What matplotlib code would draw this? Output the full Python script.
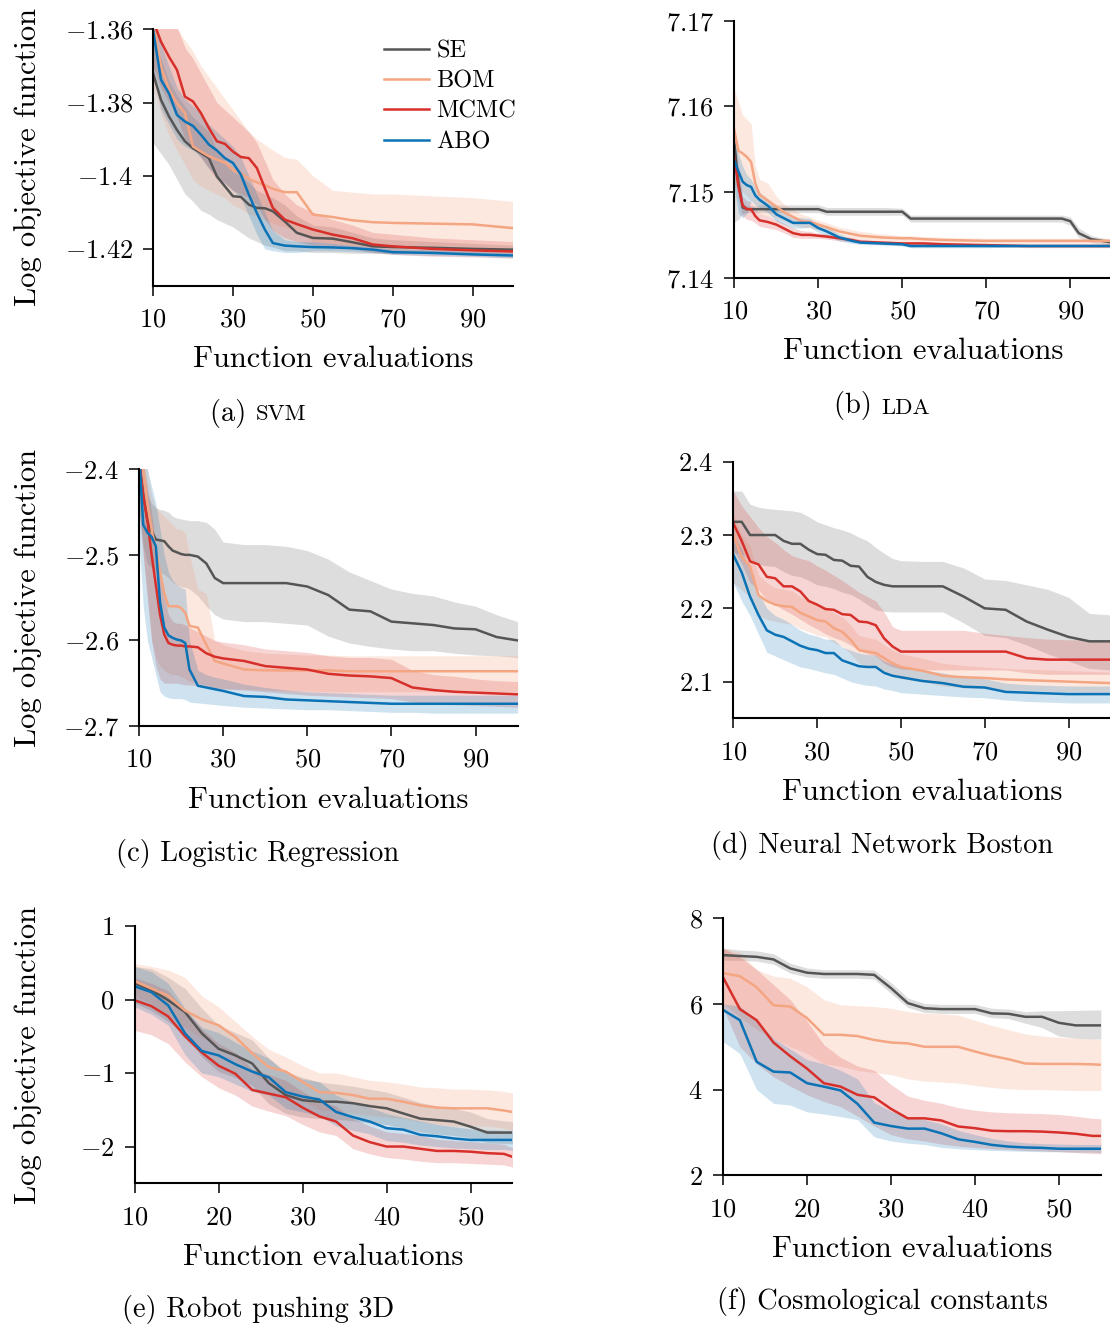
import matplotlib
matplotlib.use("Agg")
import matplotlib.pyplot as plt
from matplotlib.offsetbox import TextArea, HPacker, AnchoredOffsetbox

plt.rcParams['font.family'] = ['cmr10', 'DejaVu Serif']
plt.rcParams['mathtext.fontset'] = 'cm'
plt.rcParams['axes.formatter.use_mathtext'] = True

# ---------------- data ----------------
METHODS = ["SE", "BOM", "MCMC", "ABO"]
COLORS = ["#555555", "#f4a582", "#d7302b", "#0a72b5"]

# (a) SVM
SVM_X = [10, 12, 14, 16, 18, 20, 22, 24, 26, 28, 30, 32, 34, 36, 38, 40, 43, 46, 50, 55, 60, 65, 70, 80, 90, 100]
SVM_SE = [-1.372, -1.3793, -1.3838, -1.3875, -1.3906, -1.3925, -1.3938, -1.3952, -1.4002, -1.4029, -1.4056, -1.4058, -1.4079, -1.4088, -1.4089, -1.4097, -1.4125, -1.4156, -1.417, -1.4172, -1.4182, -1.4193, -1.4195, -1.4197, -1.42, -1.4202]
SVM_SE_LO = [-1.391, -1.394, -1.397, -1.401, -1.405, -1.407, -1.4095, -1.4105, -1.412, -1.413, -1.414, -1.4155, -1.417, -1.418, -1.419, -1.4195, -1.4205, -1.4205, -1.421, -1.421, -1.4212, -1.4212, -1.4212, -1.4212, -1.4213, -1.4214]
SVM_SE_HI = [-1.362, -1.368, -1.374, -1.378, -1.381, -1.384, -1.386, -1.388, -1.393, -1.396, -1.399, -1.400, -1.402, -1.404, -1.405, -1.406, -1.408, -1.411, -1.4135, -1.414, -1.4155, -1.417, -1.4175, -1.418, -1.4185, -1.419]
SVM_BOM = [-1.3575, -1.3702, -1.3765, -1.3802, -1.3829, -1.392, -1.3934, -1.3947, -1.3956, -1.3964, -1.3984, -1.3993, -1.4009, -1.4018, -1.4026, -1.4036, -1.4045, -1.4045, -1.4106, -1.4113, -1.4122, -1.4127, -1.4129, -1.4131, -1.4133, -1.4143]
SVM_BOM_LO = [-1.375, -1.383, -1.389, -1.393, -1.397, -1.401, -1.403, -1.404, -1.405, -1.406, -1.408, -1.409, -1.4105, -1.411, -1.412, -1.413, -1.414, -1.415, -1.418, -1.4185, -1.419, -1.4192, -1.4195, -1.4195, -1.42, -1.421]
SVM_BOM_HI = [-1.34, -1.35, -1.355, -1.36, -1.363, -1.366, -1.370, -1.373, -1.376, -1.379, -1.382, -1.385, -1.388, -1.390, -1.3915, -1.393, -1.395, -1.3955, -1.400, -1.404, -1.4045, -1.405, -1.405, -1.4055, -1.406, -1.407]
SVM_MCMC = [-1.3575, -1.3634, -1.3675, -1.3711, -1.3784, -1.3797, -1.3829, -1.387, -1.3906, -1.3913, -1.3934, -1.3949, -1.3952, -1.3979, -1.4034, -1.4088, -1.412, -1.4132, -1.4147, -1.4161, -1.4171, -1.4188, -1.4193, -1.42, -1.4204, -1.4207]
SVM_MCMC_LO = [-1.370, -1.376, -1.380, -1.384, -1.390, -1.392, -1.395, -1.398, -1.401, -1.402, -1.404, -1.405, -1.406, -1.408, -1.412, -1.415, -1.417, -1.418, -1.419, -1.4195, -1.420, -1.421, -1.4215, -1.422, -1.4222, -1.4225]
SVM_MCMC_HI = [-1.345, -1.350, -1.355, -1.359, -1.365, -1.368, -1.372, -1.376, -1.380, -1.382, -1.384, -1.386, -1.388, -1.391, -1.396, -1.401, -1.405, -1.408, -1.410, -1.412, -1.4135, -1.4155, -1.416, -1.417, -1.4175, -1.418]
SVM_ABO = [-1.36, -1.3738, -1.3775, -1.3834, -1.3852, -1.3864, -1.3888, -1.3915, -1.3931, -1.3952, -1.3965, -1.3997, -1.4052, -1.4102, -1.4147, -1.4184, -1.4191, -1.4193, -1.4195, -1.4196, -1.4198, -1.4202, -1.4209, -1.4211, -1.4215, -1.4218]
SVM_ABO_LO = [-1.372, -1.382, -1.386, -1.390, -1.392, -1.393, -1.395, -1.398, -1.400, -1.402, -1.404, -1.406, -1.411, -1.416, -1.420, -1.4205, -1.421, -1.421, -1.4205, -1.4205, -1.4207, -1.421, -1.4215, -1.4218, -1.422, -1.4225]
SVM_ABO_HI = [-1.355, -1.364, -1.370, -1.376, -1.379, -1.381, -1.383, -1.386, -1.388, -1.390, -1.392, -1.395, -1.400, -1.405, -1.410, -1.415, -1.4175, -1.418, -1.418, -1.4185, -1.419, -1.4195, -1.420, -1.4203, -1.4207, -1.421]

# (b) LDA
LDA_X = [10, 11, 12, 13, 14, 15, 16, 18, 20, 22, 24, 26, 28, 30, 32, 35, 38, 40, 45, 50, 52, 55, 60, 70, 80, 88, 90, 92, 95, 100]
LDA_SE = [7.1557, 7.151, 7.1482, 7.148, 7.148, 7.148, 7.148, 7.148, 7.148, 7.148, 7.148, 7.148, 7.148, 7.148, 7.1477, 7.1477, 7.1477, 7.1477, 7.1477, 7.1477, 7.1469, 7.1469, 7.1469, 7.1469, 7.1469, 7.1469, 7.1466, 7.1452, 7.1445, 7.1441]
LDA_SE_LO = [7.1465, 7.1468, 7.1475, 7.1476, 7.1476, 7.1476, 7.1476, 7.1476, 7.1476, 7.1476, 7.1476, 7.1476, 7.1476, 7.1476, 7.1473, 7.1473, 7.1473, 7.1473, 7.1473, 7.1473, 7.1465, 7.1465, 7.1465, 7.1465, 7.1465, 7.1465, 7.1461, 7.1447, 7.1441, 7.1438]
LDA_SE_HI = [7.158, 7.153, 7.1488, 7.1484, 7.1484, 7.1484, 7.1485, 7.1485, 7.1485, 7.1485, 7.1485, 7.1485, 7.1485, 7.1485, 7.1482, 7.1482, 7.1482, 7.1482, 7.1482, 7.1481, 7.1473, 7.1473, 7.1473, 7.1473, 7.1473, 7.1473, 7.1471, 7.1458, 7.1449, 7.1444]
LDA_BOM = [7.1572, 7.1548, 7.1545, 7.1541, 7.1535, 7.151, 7.1497, 7.149, 7.1483, 7.1476, 7.1471, 7.1466, 7.1465, 7.1462, 7.1459, 7.1454, 7.1451, 7.1449, 7.1447, 7.1446, 7.1446, 7.1445, 7.1444, 7.1443, 7.1443, 7.1443, 7.1443, 7.1443, 7.1443, 7.1443]
LDA_BOM_LO = [7.151, 7.1505, 7.150, 7.1495, 7.149, 7.148, 7.1475, 7.1472, 7.147, 7.1466, 7.1462, 7.1459, 7.1458, 7.1456, 7.1454, 7.145, 7.1447, 7.1445, 7.1443, 7.1442, 7.1442, 7.1441, 7.1441, 7.144, 7.144, 7.144, 7.144, 7.144, 7.144, 7.144]
LDA_BOM_HI = [7.162, 7.1605, 7.159, 7.1585, 7.158, 7.153, 7.1515, 7.151, 7.1495, 7.1485, 7.148, 7.1474, 7.1471, 7.1467, 7.1464, 7.1459, 7.1456, 7.1454, 7.1451, 7.1449, 7.1449, 7.1448, 7.1447, 7.1446, 7.1446, 7.1446, 7.1446, 7.1446, 7.1446, 7.1446]
LDA_MCMC = [7.1541, 7.1506, 7.1484, 7.148, 7.148, 7.1472, 7.1467, 7.1465, 7.1462, 7.1457, 7.1452, 7.145, 7.145, 7.1449, 7.1448, 7.1446, 7.1444, 7.1442, 7.1441, 7.144, 7.144, 7.144, 7.1439, 7.1438, 7.1437, 7.1437, 7.1437, 7.1437, 7.1437, 7.1437]
LDA_MCMC_LO = [7.1525, 7.149, 7.1472, 7.1468, 7.1467, 7.1464, 7.146, 7.1458, 7.1456, 7.1452, 7.1447, 7.1446, 7.1446, 7.1446, 7.1445, 7.1443, 7.1442, 7.144, 7.1439, 7.1438, 7.1438, 7.1438, 7.1437, 7.1436, 7.1435, 7.1435, 7.1435, 7.1435, 7.1435, 7.1435]
LDA_MCMC_HI = [7.1555, 7.152, 7.1495, 7.149, 7.1489, 7.148, 7.1475, 7.1472, 7.1468, 7.1463, 7.1458, 7.1455, 7.1454, 7.1452, 7.1451, 7.1449, 7.1447, 7.1445, 7.1443, 7.1442, 7.1442, 7.1442, 7.1441, 7.144, 7.1439, 7.1439, 7.1439, 7.1439, 7.1439, 7.1439]
LDA_ABO = [7.1537, 7.1524, 7.1512, 7.1508, 7.1506, 7.1496, 7.1491, 7.1484, 7.1474, 7.1469, 7.1464, 7.1464, 7.1464, 7.1458, 7.1454, 7.1447, 7.1443, 7.1441, 7.144, 7.1439, 7.1437, 7.1437, 7.1437, 7.1437, 7.1437, 7.1437, 7.1437, 7.1437, 7.1437, 7.1437]
LDA_ABO_LO = [7.1505, 7.1475, 7.147, 7.1475, 7.149, 7.1485, 7.1482, 7.1476, 7.1466, 7.1462, 7.1458, 7.1458, 7.1459, 7.1453, 7.1449, 7.1443, 7.144, 7.1439, 7.1438, 7.1437, 7.1435, 7.1435, 7.1435, 7.1435, 7.1436, 7.1436, 7.1436, 7.1436, 7.1436, 7.1436]
LDA_ABO_HI = [7.1556, 7.1545, 7.153, 7.152, 7.1515, 7.1505, 7.15, 7.1492, 7.1481, 7.1475, 7.147, 7.147, 7.1469, 7.1463, 7.1459, 7.1451, 7.1446, 7.1443, 7.1442, 7.1441, 7.1439, 7.1439, 7.1439, 7.1439, 7.1438, 7.1438, 7.1438, 7.1438, 7.1438, 7.1438]

# (c) Logistic Regression
LR_X = [10, 11, 12, 13, 14, 15, 16, 17, 18, 19, 20, 21, 22, 24, 26, 28, 30, 35, 40, 45, 50, 55, 60, 65, 70, 75, 80, 85, 90, 95, 100]
LR_SE = [-2.39, -2.43, -2.46, -2.472, -2.482, -2.483, -2.484, -2.49, -2.495, -2.497, -2.499, -2.5, -2.5, -2.502, -2.51, -2.527, -2.533, -2.533, -2.533, -2.533, -2.537, -2.547, -2.564, -2.566, -2.578, -2.58, -2.582, -2.586, -2.587, -2.596, -2.6]
LR_SE_LO = [-2.45, -2.49, -2.51, -2.515, -2.52, -2.52, -2.523, -2.527, -2.532, -2.535, -2.537, -2.538, -2.54, -2.548, -2.56, -2.57, -2.575, -2.578, -2.578, -2.58, -2.582, -2.595, -2.603, -2.607, -2.61, -2.612, -2.612, -2.615, -2.617, -2.618, -2.62]
LR_SE_HI = [-2.38, -2.40, -2.43, -2.44, -2.445, -2.447, -2.448, -2.45, -2.455, -2.457, -2.458, -2.459, -2.46, -2.46, -2.462, -2.47, -2.485, -2.488, -2.488, -2.49, -2.495, -2.505, -2.52, -2.53, -2.54, -2.545, -2.548, -2.555, -2.56, -2.57, -2.578]
LR_BOM = [-2.38, -2.40, -2.44, -2.47, -2.495, -2.52, -2.545, -2.56, -2.56, -2.56, -2.562, -2.568, -2.583, -2.585, -2.605, -2.624, -2.627, -2.634, -2.635, -2.635, -2.635, -2.635, -2.636, -2.636, -2.636, -2.636, -2.636, -2.636, -2.636, -2.636, -2.636]
LR_BOM_LO = [-2.45, -2.5, -2.55, -2.6, -2.62, -2.63, -2.635, -2.638, -2.64, -2.64, -2.642, -2.645, -2.648, -2.65, -2.652, -2.655, -2.656, -2.657, -2.658, -2.659, -2.659, -2.66, -2.66, -2.66, -2.66, -2.66, -2.66, -2.66, -2.66, -2.66, -2.66]
LR_BOM_HI = [-2.36, -2.38, -2.4, -2.43, -2.445, -2.45, -2.455, -2.46, -2.465, -2.47, -2.47, -2.475, -2.5, -2.54, -2.545, -2.6, -2.605, -2.612, -2.615, -2.616, -2.617, -2.617, -2.618, -2.618, -2.618, -2.618, -2.618, -2.618, -2.618, -2.618, -2.618]
LR_MCMC = [-2.39, -2.43, -2.46, -2.5, -2.535, -2.57, -2.593, -2.603, -2.605, -2.606, -2.606, -2.607, -2.607, -2.608, -2.615, -2.619, -2.621, -2.624, -2.63, -2.632, -2.634, -2.639, -2.641, -2.642, -2.644, -2.655, -2.658, -2.66, -2.661, -2.662, -2.663]
LR_MCMC_LO = [-2.44, -2.5, -2.55, -2.6, -2.63, -2.645, -2.65, -2.65, -2.65, -2.65, -2.651, -2.652, -2.652, -2.653, -2.655, -2.656, -2.657, -2.658, -2.66, -2.662, -2.664, -2.665, -2.666, -2.667, -2.668, -2.672, -2.674, -2.675, -2.676, -2.677, -2.678]
LR_MCMC_HI = [-2.36, -2.39, -2.42, -2.45, -2.49, -2.52, -2.55, -2.57, -2.578, -2.58, -2.58, -2.582, -2.585, -2.59, -2.595, -2.6, -2.602, -2.605, -2.61, -2.612, -2.614, -2.618, -2.62, -2.62, -2.622, -2.635, -2.64, -2.642, -2.645, -2.647, -2.648]
LR_ABO = [-2.38, -2.465, -2.474, -2.479, -2.49, -2.555, -2.585, -2.594, -2.597, -2.599, -2.6, -2.603, -2.634, -2.653, -2.655, -2.657, -2.659, -2.665, -2.666, -2.669, -2.670, -2.671, -2.672, -2.673, -2.674, -2.674, -2.674, -2.674, -2.674, -2.674, -2.674]
LR_ABO_LO = [-2.48, -2.56, -2.6, -2.62, -2.64, -2.66, -2.665, -2.667, -2.668, -2.668, -2.668, -2.669, -2.672, -2.673, -2.674, -2.675, -2.676, -2.678, -2.679, -2.68, -2.681, -2.681, -2.682, -2.683, -2.684, -2.684, -2.685, -2.685, -2.685, -2.685, -2.685]
LR_ABO_HI = [-2.36, -2.38, -2.4, -2.42, -2.44, -2.47, -2.5, -2.52, -2.53, -2.535, -2.538, -2.54, -2.6, -2.635, -2.64, -2.643, -2.645, -2.651, -2.655, -2.658, -2.66, -2.661, -2.662, -2.663, -2.664, -2.664, -2.664, -2.664, -2.664, -2.664, -2.664]

# (d) Neural Network Boston
NN_X = [10, 12, 14, 16, 18, 20, 22, 24, 26, 28, 30, 32, 34, 36, 38, 40, 42, 44, 46, 48, 50, 55, 60, 65, 70, 75, 80, 85, 90, 95, 100]
NN_SE = [2.318, 2.318, 2.3, 2.3, 2.3, 2.3, 2.292, 2.288, 2.288, 2.28, 2.274, 2.273, 2.266, 2.265, 2.258, 2.257, 2.243, 2.236, 2.232, 2.23, 2.23, 2.23, 2.23, 2.216, 2.2, 2.198, 2.182, 2.171, 2.161, 2.155, 2.155]
NN_SE_LO = [2.275, 2.275, 2.265, 2.26, 2.258, 2.257, 2.25, 2.245, 2.243, 2.238, 2.232, 2.23, 2.227, 2.222, 2.219, 2.213, 2.205, 2.198, 2.196, 2.195, 2.195, 2.195, 2.195, 2.18, 2.163, 2.16, 2.15, 2.138, 2.128, 2.118, 2.116]
NN_SE_HI = [2.36, 2.36, 2.342, 2.338, 2.336, 2.335, 2.334, 2.333, 2.331, 2.325, 2.318, 2.314, 2.31, 2.307, 2.303, 2.297, 2.292, 2.283, 2.275, 2.268, 2.265, 2.264, 2.264, 2.255, 2.24, 2.238, 2.232, 2.226, 2.215, 2.193, 2.191]
NN_BOM = [2.3, 2.27, 2.257, 2.218, 2.21, 2.205, 2.203, 2.202, 2.194, 2.189, 2.184, 2.182, 2.173, 2.168, 2.157, 2.143, 2.141, 2.139, 2.132, 2.125, 2.12, 2.115, 2.108, 2.106, 2.105, 2.103, 2.102, 2.101, 2.1, 2.099, 2.098]
NN_BOM_LO = [2.235, 2.225, 2.215, 2.19, 2.185, 2.182, 2.18, 2.178, 2.172, 2.168, 2.163, 2.161, 2.153, 2.148, 2.138, 2.125, 2.122, 2.12, 2.114, 2.108, 2.104, 2.1, 2.094, 2.092, 2.091, 2.089, 2.088, 2.087, 2.086, 2.085, 2.084]
NN_BOM_HI = [2.33, 2.3, 2.285, 2.245, 2.235, 2.228, 2.226, 2.224, 2.216, 2.21, 2.205, 2.202, 2.194, 2.188, 2.177, 2.163, 2.16, 2.158, 2.15, 2.143, 2.138, 2.132, 2.125, 2.122, 2.12, 2.118, 2.117, 2.116, 2.115, 2.114, 2.113]
NN_MCMC = [2.316, 2.292, 2.264, 2.26, 2.243, 2.241, 2.23, 2.23, 2.223, 2.21, 2.205, 2.199, 2.198, 2.192, 2.191, 2.182, 2.181, 2.177, 2.159, 2.148, 2.141, 2.141, 2.141, 2.141, 2.141, 2.141, 2.132, 2.13, 2.13, 2.13, 2.13]
NN_MCMC_LO = [2.28, 2.26, 2.235, 2.225, 2.212, 2.205, 2.198, 2.192, 2.185, 2.178, 2.172, 2.165, 2.16, 2.156, 2.15, 2.142, 2.138, 2.135, 2.125, 2.12, 2.117, 2.116, 2.116, 2.116, 2.116, 2.116, 2.112, 2.11, 2.11, 2.11, 2.11]
NN_MCMC_HI = [2.36, 2.34, 2.325, 2.31, 2.298, 2.29, 2.28, 2.272, 2.268, 2.265, 2.258, 2.252, 2.245, 2.238, 2.23, 2.222, 2.216, 2.21, 2.195, 2.175, 2.17, 2.17, 2.17, 2.17, 2.166, 2.163, 2.16, 2.158, 2.157, 2.157, 2.157]
NN_ABO = [2.273, 2.249, 2.216, 2.191, 2.17, 2.164, 2.161, 2.155, 2.149, 2.145, 2.143, 2.139, 2.139, 2.129, 2.125, 2.121, 2.12, 2.12, 2.112, 2.108, 2.106, 2.101, 2.098, 2.093, 2.092, 2.086, 2.085, 2.084, 2.083, 2.083, 2.083]
NN_ABO_LO = [2.235, 2.21, 2.19, 2.165, 2.14, 2.135, 2.13, 2.125, 2.12, 2.118, 2.115, 2.112, 2.11, 2.105, 2.1, 2.097, 2.095, 2.094, 2.09, 2.088, 2.085, 2.083, 2.081, 2.079, 2.078, 2.075, 2.073, 2.072, 2.071, 2.071, 2.071]
NN_ABO_HI = [2.3, 2.28, 2.25, 2.222, 2.2, 2.19, 2.185, 2.178, 2.17, 2.165, 2.162, 2.158, 2.157, 2.147, 2.143, 2.139, 2.137, 2.136, 2.128, 2.124, 2.121, 2.116, 2.112, 2.106, 2.104, 2.098, 2.096, 2.095, 2.094, 2.094, 2.094]

# (e) Robot pushing 3D
RP_X = [10, 12, 14, 16, 18, 20, 22, 24, 26, 28, 30, 32, 34, 36, 38, 40, 42, 44, 46, 48, 50, 52, 54, 55]
RP_SE = [0.22, 0.13, -0.01, -0.17, -0.46, -0.67, -0.76, -0.87, -1.14, -1.3, -1.37, -1.39, -1.39, -1.41, -1.45, -1.48, -1.55, -1.62, -1.64, -1.66, -1.73, -1.81, -1.81, -1.81]
RP_SE_LO = [-0.05, -0.15, -0.3, -0.48, -0.78, -0.98, -1.06, -1.17, -1.42, -1.55, -1.6, -1.62, -1.63, -1.65, -1.68, -1.7, -1.75, -1.8, -1.83, -1.85, -1.88, -1.95, -1.96, -1.96]
RP_SE_HI = [0.45, 0.42, 0.3, 0.15, -0.12, -0.35, -0.45, -0.55, -0.8, -0.98, -1.06, -1.12, -1.15, -1.18, -1.22, -1.26, -1.33, -1.4, -1.45, -1.48, -1.53, -1.62, -1.65, -1.66]
RP_BOM = [0.25, 0.15, 0.05, -0.15, -0.27, -0.35, -0.51, -0.73, -0.92, -0.98, -1.12, -1.26, -1.27, -1.3, -1.35, -1.35, -1.39, -1.44, -1.47, -1.48, -1.48, -1.48, -1.51, -1.53]
RP_BOM_LO = [0.05, -0.05, -0.2, -0.38, -0.52, -0.62, -0.78, -1.0, -1.15, -1.25, -1.38, -1.5, -1.52, -1.55, -1.58, -1.6, -1.62, -1.66, -1.7, -1.72, -1.72, -1.72, -1.75, -1.78]
RP_BOM_HI = [0.49, 0.45, 0.4, 0.3, 0.05, -0.1, -0.3, -0.5, -0.68, -0.78, -0.9, -1.0, -1.0, -1.05, -1.1, -1.12, -1.15, -1.19, -1.2, -1.22, -1.22, -1.23, -1.25, -1.27]
RP_MCMC = [-0.01, -0.09, -0.23, -0.5, -0.72, -0.9, -1.01, -1.23, -1.28, -1.33, -1.47, -1.59, -1.66, -1.85, -1.94, -2.0, -2.0, -2.03, -2.06, -2.06, -2.07, -2.09, -2.1, -2.14]
RP_MCMC_LO = [-0.42, -0.48, -0.6, -0.85, -1.05, -1.2, -1.3, -1.45, -1.52, -1.58, -1.7, -1.8, -1.85, -2.03, -2.1, -2.15, -2.17, -2.2, -2.22, -2.22, -2.23, -2.24, -2.25, -2.28]
RP_MCMC_HI = [0.3, 0.22, 0.12, -0.15, -0.4, -0.6, -0.72, -0.95, -1.02, -1.1, -1.25, -1.38, -1.45, -1.62, -1.72, -1.8, -1.82, -1.85, -1.9, -1.92, -1.93, -1.95, -1.97, -2.02]
RP_ABO = [0.18, 0.1, -0.08, -0.46, -0.7, -0.76, -0.88, -0.98, -1.06, -1.26, -1.32, -1.36, -1.53, -1.6, -1.66, -1.75, -1.77, -1.84, -1.86, -1.89, -1.91, -1.91, -1.91, -1.91]
RP_ABO_LO = [-0.1, -0.2, -0.35, -0.75, -1.0, -1.05, -1.15, -1.25, -1.3, -1.48, -1.53, -1.58, -1.72, -1.78, -1.83, -1.92, -1.94, -1.98, -2.0, -2.02, -2.03, -2.04, -2.04, -2.05]
RP_ABO_HI = [0.45, 0.38, 0.22, -0.12, -0.38, -0.45, -0.58, -0.7, -0.8, -1.0, -1.08, -1.12, -1.3, -1.4, -1.47, -1.55, -1.6, -1.65, -1.7, -1.73, -1.76, -1.77, -1.78, -1.78]

# (f) Cosmological constants
CC_X = [10, 12, 14, 16, 18, 20, 22, 24, 26, 28, 30, 32, 34, 36, 38, 40, 42, 44, 46, 48, 50, 52, 54, 55]
CC_SE = [7.14, 7.12, 7.1, 7.04, 6.83, 6.73, 6.7, 6.7, 6.7, 6.68, 6.37, 6.02, 5.9, 5.88, 5.88, 5.88, 5.78, 5.77, 5.7, 5.7, 5.56, 5.5, 5.5, 5.5]
CC_SE_LO = [7.02, 7.02, 7.0, 6.93, 6.72, 6.63, 6.6, 6.6, 6.6, 6.58, 6.25, 5.92, 5.8, 5.78, 5.78, 5.78, 5.68, 5.66, 5.55, 5.45, 5.25, 5.2, 5.18, 5.18]
CC_SE_HI = [7.3, 7.26, 7.24, 7.17, 6.95, 6.84, 6.8, 6.8, 6.8, 6.79, 6.5, 6.14, 6.01, 5.99, 5.99, 5.99, 5.9, 5.88, 5.82, 5.84, 5.84, 5.85, 5.86, 5.86]
CC_BOM = [6.72, 6.65, 6.39, 5.97, 5.94, 5.67, 5.28, 5.28, 5.25, 5.16, 5.1, 5.08, 5.0, 5.0, 5.0, 4.89, 4.79, 4.71, 4.61, 4.6, 4.6, 4.6, 4.59, 4.58]
CC_BOM_LO = [6.0, 5.7, 5.4, 5.2, 5.0, 4.85, 4.6, 4.55, 4.45, 4.4, 4.35, 4.25, 4.2, 4.18, 4.15, 4.1, 4.05, 4.02, 4.0, 4.0, 3.99, 3.98, 3.98, 3.98]
CC_BOM_HI = [7.3, 7.2, 6.8, 6.65, 6.6, 6.4, 6.1, 5.98, 5.96, 5.94, 5.9, 5.82, 5.78, 5.77, 5.74, 5.62, 5.5, 5.4, 5.3, 5.25, 5.22, 5.2, 5.18, 5.16]
CC_MCMC = [6.62, 5.88, 5.62, 5.1, 4.78, 4.49, 4.15, 4.07, 3.88, 3.82, 3.55, 3.33, 3.33, 3.28, 3.14, 3.1, 3.04, 3.03, 3.03, 3.02, 3.0, 2.97, 2.92, 2.92]
CC_MCMC_LO = [5.9, 5.0, 4.6, 4.3, 4.08, 3.88, 3.72, 3.6, 3.38, 3.15, 2.95, 2.85, 2.8, 2.73, 2.68, 2.65, 2.62, 2.6, 2.58, 2.57, 2.55, 2.53, 2.51, 2.5]
CC_MCMC_HI = [7.3, 7.1, 6.8, 6.45, 6.1, 5.6, 5.05, 4.75, 4.55, 4.45, 4.12, 3.85, 3.75, 3.68, 3.58, 3.52, 3.48, 3.46, 3.45, 3.44, 3.42, 3.38, 3.33, 3.32]
CC_ABO = [5.86, 5.62, 4.65, 4.42, 4.4, 4.15, 4.07, 3.98, 3.67, 3.23, 3.15, 3.09, 3.09, 2.98, 2.84, 2.78, 2.71, 2.67, 2.65, 2.64, 2.62, 2.62, 2.62, 2.62]
CC_ABO_LO = [5.12, 4.84, 4.0, 3.68, 3.64, 3.48, 3.43, 3.37, 3.3, 2.9, 2.8, 2.75, 2.72, 2.65, 2.62, 2.6, 2.58, 2.57, 2.56, 2.55, 2.55, 2.54, 2.54, 2.53]
CC_ABO_HI = [6.0, 5.95, 5.6, 5.2, 4.95, 4.7, 4.6, 4.45, 4.25, 3.7, 3.5, 3.35, 3.3, 3.2, 3.05, 2.95, 2.86, 2.8, 2.76, 2.74, 2.73, 2.72, 2.72, 2.72]

# ticks / labels
XT_100 = [10, 30, 50, 70, 90]
XT_55 = [10, 20, 30, 40, 50]
SVM_YT = [-1.36, -1.38, -1.40, -1.42]
SVM_YL = ["-1.36", "-1.38", "-1.4", "-1.42"]
LDA_YT = [7.14, 7.15, 7.16, 7.17]
LDA_YL = ["7.14", "7.15", "7.16", "7.17"]
LR_YT = [-2.4, -2.5, -2.6, -2.7]
LR_YL = ["-2.4", "-2.5", "-2.6", "-2.7"]
NN_YT = [2.1, 2.2, 2.3, 2.4]
NN_YL = ["2.1", "2.2", "2.3", "2.4"]
RP_YT = [1, 0, -1, -2]
RP_YL = ["1", "0", "-1", "-2"]
CC_YT = [2, 4, 6, 8]
CC_YL = ["2", "4", "6", "8"]

CAPTIONS = [("(a) ", "SVM"), ("(b) ", "LDA"), ("(c) Logistic Regression", ""),
            ("(d) Neural Network Boston", ""), ("(e) Robot pushing 3D", ""),
            ("(f) Cosmological constants", "")]

# ---------------- figure ----------------
W, H = 1110, 1328
fig = plt.figure(figsize=(W / 100, H / 100), dpi=100)

TICK_FS = 19
LABEL_FS = 22
CAP_FS = 20.5
LEG_FS = 17.5

def add_ax(L, T, R, B):
    return fig.add_axes([L / W, 1 - B / H, (R - L) / W, (B - T) / H])

panels = [
    dict(box=(153, 29.3, 512.5, 285.5), x=SVM_X,
         series=[(SVM_SE, SVM_SE_LO, SVM_SE_HI), (SVM_BOM, SVM_BOM_LO, SVM_BOM_HI),
                 (SVM_MCMC, SVM_MCMC_LO, SVM_MCMC_HI), (SVM_ABO, SVM_ABO_LO, SVM_ABO_HI)],
         xlim=(10, 100), ylim=(-1.43, -1.36), xt=XT_100, yt=SVM_YT, yl=SVM_YL,
         ylabel=True, cap=(258, 413)),
    dict(box=(734.3, 20.7, 1112.3, 277.7), x=LDA_X,
         series=[(LDA_SE, LDA_SE_LO, LDA_SE_HI), (LDA_BOM, LDA_BOM_LO, LDA_BOM_HI),
                 (LDA_MCMC, LDA_MCMC_LO, LDA_MCMC_HI), (LDA_ABO, LDA_ABO_LO, LDA_ABO_HI)],
         xlim=(10, 100), ylim=(7.14, 7.17), xt=XT_100, yt=LDA_YT, yl=LDA_YL,
         ylabel=False, cap=(882, 406)),
    dict(box=(139, 469.3, 517.6, 726), x=LR_X,
         series=[(LR_SE, LR_SE_LO, LR_SE_HI), (LR_BOM, LR_BOM_LO, LR_BOM_HI),
                 (LR_MCMC, LR_MCMC_LO, LR_MCMC_HI), (LR_ABO, LR_ABO_LO, LR_ABO_HI)],
         xlim=(10, 100), ylim=(-2.7, -2.4), xt=XT_100, yt=LR_YT, yl=LR_YL,
         ylabel=True, cap=(258, 853)),
    dict(box=(733.3, 461.7, 1110.4, 718.3), x=NN_X,
         series=[(NN_SE, NN_SE_LO, NN_SE_HI), (NN_BOM, NN_BOM_LO, NN_BOM_HI),
                 (NN_MCMC, NN_MCMC_LO, NN_MCMC_HI), (NN_ABO, NN_ABO_LO, NN_ABO_HI)],
         xlim=(10, 100), ylim=(2.05, 2.4), xt=XT_100, yt=NN_YT, yl=NN_YL,
         ylabel=False, cap=(882, 845)),
    dict(box=(134.6, 926, 512.5, 1183.3), x=RP_X,
         series=[(RP_SE, RP_SE_LO, RP_SE_HI), (RP_BOM, RP_BOM_LO, RP_BOM_HI),
                 (RP_MCMC, RP_MCMC_LO, RP_MCMC_HI), (RP_ABO, RP_ABO_LO, RP_ABO_HI)],
         xlim=(10, 55), ylim=(-2.5, 1), xt=XT_55, yt=RP_YT, yl=RP_YL,
         ylabel=True, cap=(258, 1310)),
    dict(box=(723.1, 918.3, 1100.9, 1175.3), x=CC_X,
         series=[(CC_SE, CC_SE_LO, CC_SE_HI), (CC_BOM, CC_BOM_LO, CC_BOM_HI),
                 (CC_MCMC, CC_MCMC_LO, CC_MCMC_HI), (CC_ABO, CC_ABO_LO, CC_ABO_HI)],
         xlim=(10, 55), ylim=(2, 8), xt=XT_55, yt=CC_YT, yl=CC_YL,
         ylabel=False, cap=(882, 1302)),
]

ALPHAS = [0.2, 0.25, 0.2, 0.2]

for i, p in enumerate(panels):
    L, T, R, B = p["box"]
    ax = add_ax(L, T, R, B)
    for (m, lo, hi), c, a in zip(p["series"], COLORS, ALPHAS):
        ax.fill_between(p["x"], lo, hi, color=c, alpha=a, linewidth=0)
    for (m, lo, hi), c, name in zip(p["series"], COLORS, METHODS):
        ax.plot(p["x"], m, color=c, lw=1.8, label=name)
    ax.set_xlim(*p["xlim"])
    ax.set_ylim(*p["ylim"])
    ax.set_xticks(p["xt"])
    ax.set_xticklabels([f"${v}$" for v in p["xt"]])
    ax.set_yticks(p["yt"])
    ax.set_yticklabels([f"${s}$" for s in p["yl"]])
    for s in ["top", "right"]:
        ax.spines[s].set_visible(False)
    for s in ["left", "bottom"]:
        ax.spines[s].set_linewidth(1.5)
    ax.tick_params(direction="out", length=7.5, width=1.1, labelsize=TICK_FS, pad=7)
    ax.tick_params(axis="x", pad=8.5)
    ax.set_xlabel("Function evaluations", fontsize=LABEL_FS)
    ax.xaxis.set_label_coords(0.5, -(74) / (B - T))
    ax.xaxis.label.set_va("center")
    if p["ylabel"]:
        ax.set_ylabel("Log objective function", fontsize=LABEL_FS)
        ax.yaxis.set_label_coords(-(L - 28) / (R - L), 0.5)
        ax.yaxis.label.set_va("center")
    if i == 0:
        ax.legend(loc="upper left", bbox_to_anchor=(384 / W, 1 - 40 / H),
                  bbox_transform=fig.transFigure, frameon=False, fontsize=LEG_FS,
                  handlelength=1.85, handletextpad=0.3, labelspacing=0.34,
                  borderaxespad=0, borderpad=0)
    main, sc = CAPTIONS[i]
    kids = [TextArea(main, textprops=dict(fontsize=CAP_FS))]
    if sc:
        kids.append(TextArea(sc, textprops=dict(fontsize=CAP_FS * 0.8)))
    box = HPacker(children=kids, align="baseline", pad=0, sep=0)
    cx, cy = p["cap"]
    ab = AnchoredOffsetbox(loc="center", child=box, bbox_to_anchor=(cx / W, 1 - cy / H),
                           bbox_transform=fig.transFigure, frameon=False, pad=0, borderpad=0)
    fig.add_artist(ab)

fig.savefig("out.png", dpi=100)
